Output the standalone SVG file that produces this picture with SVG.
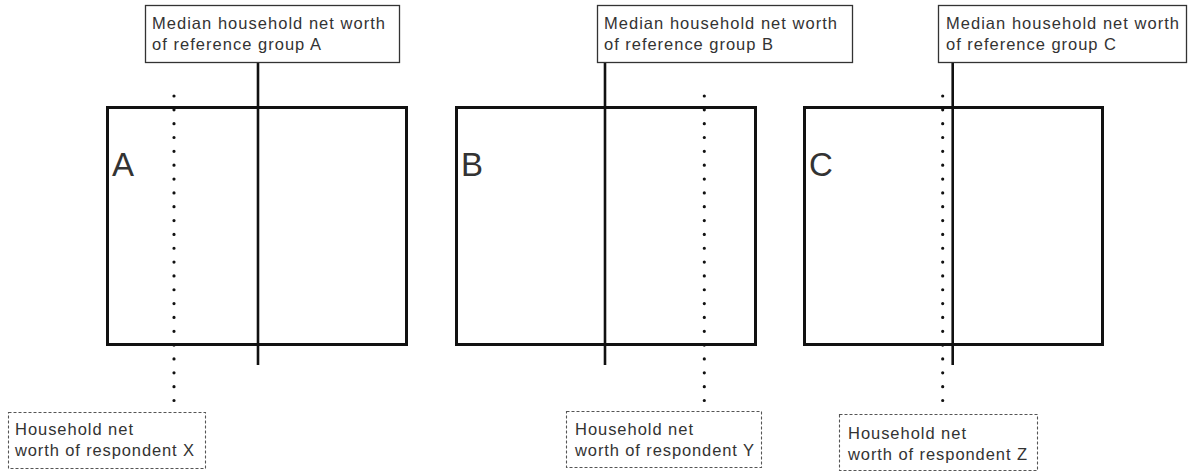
<svg xmlns="http://www.w3.org/2000/svg" width="1188" height="472" viewBox="0 0 1188 472">
  <style>
    .frame { fill: none; stroke: #111; stroke-width: 3; }
    .big { font-family: "Liberation Sans", Arial, sans-serif; font-size: 33px; fill: #333; }
    .lbl { fill: #fff; stroke: #333; stroke-width: 1.3; }
    .lbld { fill: #fff; stroke: #555; stroke-width: 1.1; stroke-dasharray: 3 2; }
    .t { font-family: "Liberation Sans", Arial, sans-serif; font-size: 16.5px; fill: #333; }
    .solid { stroke: #111; stroke-width: 2.6; fill: none; }
    .dots { stroke: #111; stroke-width: 3.2; stroke-linecap: round; stroke-dasharray: 0 13.84; fill: none; }
  </style>
  <rect width="1188" height="472" fill="#fff"/>

  <g id="connectors">
    <line class="solid" x1="258" y1="62" x2="258" y2="365"/>
    <line class="solid" x1="605" y1="62" x2="605" y2="365"/>
    <line class="solid" x1="952.7" y1="62" x2="952.7" y2="365"/>
    <line class="dots" x1="174" y1="96" x2="174" y2="400.5"/>
    <line class="dots" x1="704.3" y1="96" x2="704.3" y2="400.5"/>
    <line class="dots" x1="942.7" y1="96" x2="942.7" y2="400.5"/>
  </g>

  <g id="groupA">
    <rect class="frame" x="107.5" y="107.5" width="299" height="237"/>
    <text class="big" x="112" y="176">A</text>
  </g>
  <g id="groupB">
    <rect class="frame" x="456.5" y="107.5" width="299" height="237"/>
    <text class="big" x="461" y="176">B</text>
  </g>
  <g id="groupC">
    <rect class="frame" x="804.5" y="107.5" width="298" height="237"/>
    <text class="big" x="809" y="176">C</text>
  </g>

  <g id="medianA">
    <rect class="lbl" x="145.5" y="5.5" width="254" height="57"/>
    <text class="t" x="152" y="29" textLength="233">Median household net worth</text>
    <text class="t" x="152" y="50" textLength="169">of reference group A</text>
  </g>
  <g id="medianB">
    <rect class="lbl" x="597.5" y="5.5" width="255" height="57"/>
    <text class="t" x="604" y="29" textLength="233">Median household net worth</text>
    <text class="t" x="604" y="50" textLength="169">of reference group B</text>
  </g>
  <g id="medianC">
    <rect class="lbl" x="938.5" y="5.5" width="248" height="57"/>
    <text class="t" x="946" y="29" textLength="233">Median household net worth</text>
    <text class="t" x="946" y="50" textLength="170">of reference group C</text>
  </g>

  <g id="respX">
    <rect class="lbld" x="8.5" y="412.5" width="197" height="56"/>
    <text class="t" x="15" y="435" textLength="118">Household net</text>
    <text class="t" x="15" y="456" textLength="179">worth of respondent X</text>
  </g>
  <g id="respY">
    <rect class="lbld" x="566.5" y="411.5" width="195" height="56"/>
    <text class="t" x="575" y="435" textLength="118">Household net</text>
    <text class="t" x="575" y="456" textLength="179">worth of respondent Y</text>
  </g>
  <g id="respZ">
    <rect class="lbld" x="839.5" y="414.5" width="198" height="56"/>
    <text class="t" x="848" y="439" textLength="118">Household net</text>
    <text class="t" x="848" y="460" textLength="179">worth of respondent Z</text>
  </g>
</svg>
